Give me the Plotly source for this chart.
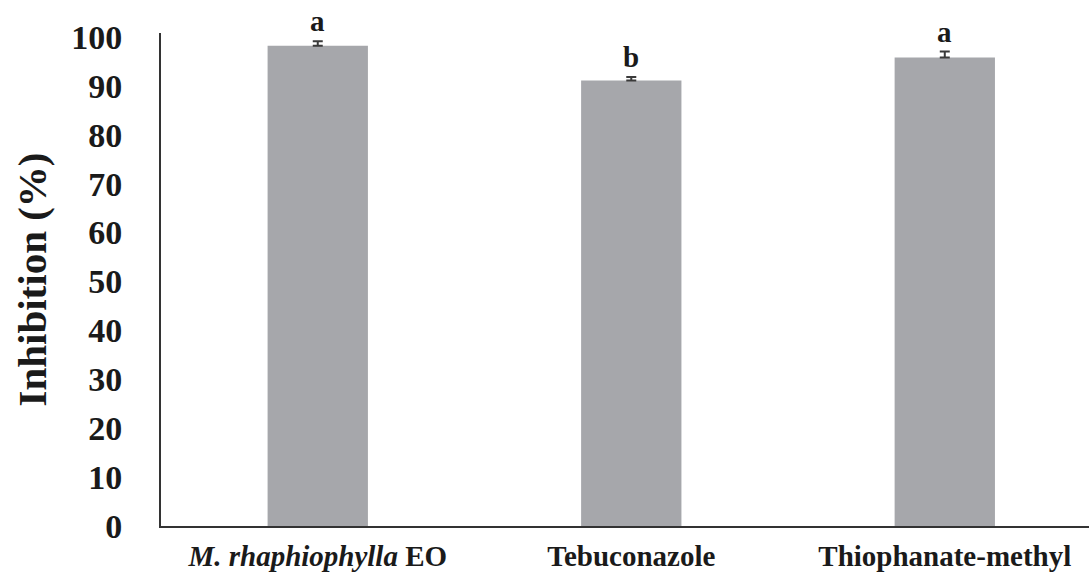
import plotly.graph_objects as go

categories = ["<i>M. rhaphiophylla</i> EO", "Tebuconazole", "Thiophanate-methyl"]
values = [98.2, 91.1, 95.8]
errors = [0.9, 0.7, 1.2]
letters = ["a", "b", "a"]
yticks = [0, 10, 20, 30, 40, 50, 60, 70, 80, 90, 100]

font_family = "Liberation Serif, Times New Roman, serif"
x_pos = list(range(len(categories)))

fig = go.Figure()
fig.add_trace(go.Bar(
    x=x_pos, y=values, width=0.32,
    marker=dict(color="#a6a7ab", line=dict(width=0)),
    error_y=dict(type="data", symmetric=False, array=errors, arrayminus=[0] * len(errors),
                 visible=True, color="#3a3a3a", thickness=2, width=5),
))

for xi, v, e, lab in zip(x_pos, values, errors, letters):
    fig.add_annotation(x=xi, y=v + e, text=lab, showarrow=False,
                       yanchor="bottom", yshift=2,
                       font=dict(family=font_family, size=29, color="#1a1a1a", weight="bold"))

fig.update_layout(
    width=1089, height=579,
    margin=dict(l=161, r=0, t=33, b=53),
    paper_bgcolor="white", plot_bgcolor="white",
    showlegend=False,
    font=dict(family=font_family, color="#1a1a1a", weight="bold"),
)
fig.update_xaxes(
    tickmode="array", tickvals=x_pos, ticktext=categories,
    range=[-0.5, 2.46], showline=True, linecolor="#333333", linewidth=2,
    showgrid=False, ticks="", tickfont=dict(family=font_family, size=29, color="#1a1a1a", weight="bold"),
    ticklabelstandoff=3, zeroline=False,
)
fig.update_yaxes(
    tickmode="array", tickvals=yticks, ticktext=[str(t) for t in yticks],
    range=[0, 100.8], showline=True, linecolor="#333333", linewidth=2,
    showgrid=False, ticks="", zeroline=False,
    tickfont=dict(family=font_family, size=34, color="#1a1a1a", weight="bold"),
    ticklabelstandoff=30,
    title=dict(text="Inhibition (%)", font=dict(family=font_family, size=41, color="#1a1a1a", weight="bold"), standoff=12),
)

fig.write_html("out.html")
